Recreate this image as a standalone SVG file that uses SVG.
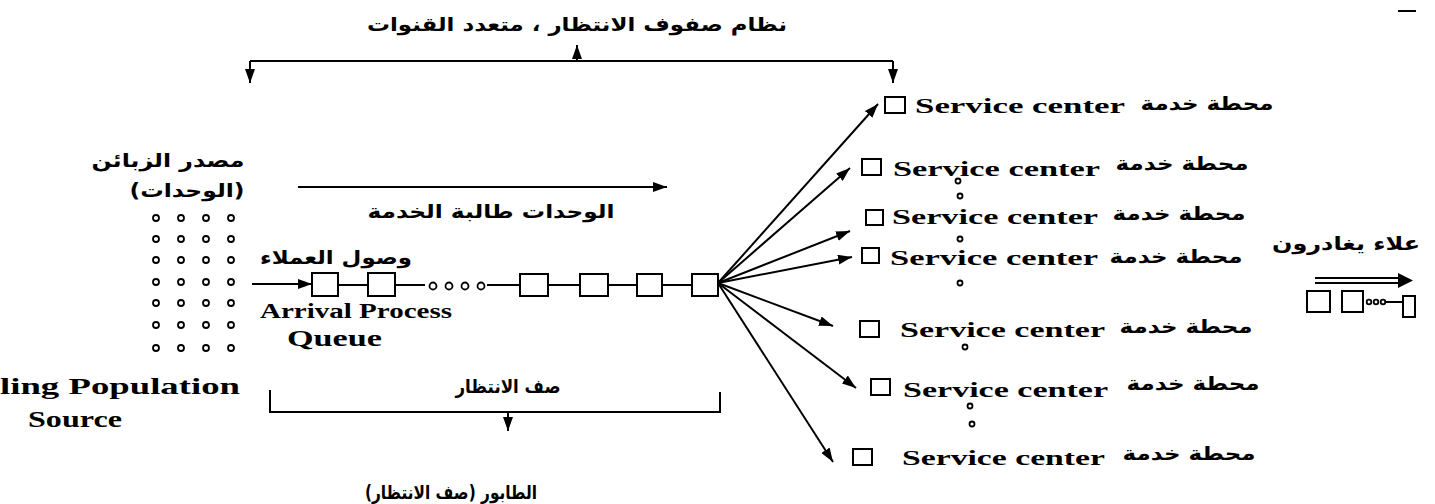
<svg xmlns="http://www.w3.org/2000/svg" width="1435" height="504" viewBox="0 0 1435 504">
<style>
.ln{stroke:#000;stroke-width:2;fill:none}
.box{fill:#fff;stroke:#000;stroke-width:2}
.dot{fill:#fff;stroke:#000;stroke-width:1.8}
.en{font-family:"Liberation Serif",serif;font-weight:bold;fill:#000}
.ar{font-family:"DejaVu Sans",sans-serif;font-weight:bold;fill:#000;direction:rtl;text-anchor:middle;font-size:19px}
</style>
<defs>
<marker id="ah" viewBox="0 0 14 10" refX="14" refY="5" markerWidth="14" markerHeight="10" markerUnits="userSpaceOnUse" orient="auto"><path d="M0,0 L14,5 L0,10 z" fill="#000"/></marker>
</defs>
<rect width="1435" height="504" fill="#fff"/>

<g id="title">
<text class="ar" x="577" y="31" font-size="21" textLength="420" lengthAdjust="spacingAndGlyphs">نظام صفوف الانتظار ، متعدد القنوات</text>
</g>
<g id="top-bracket">
<path class="ln" d="M250,61 H893"/>
<line class="ln" x1="250" y1="61" x2="250" y2="83" marker-end="url(#ah)"/>
<line class="ln" x1="893" y1="61" x2="893" y2="83" marker-end="url(#ah)"/>
<line class="ln" x1="577" y1="61" x2="577" y2="45" marker-end="url(#ah)"/>
</g>
<line class="ln" x1="1398" y1="11" x2="1416" y2="11" stroke-width="2.5"/>

<g id="source">
<text class="ar" x="168" y="167" textLength="153" lengthAdjust="spacingAndGlyphs">مصدر الزبائن</text>
<text class="ar" x="187" y="197" textLength="115" lengthAdjust="spacingAndGlyphs">(الوحدات)</text>
<g class="dot">
<circle cx="156" cy="218" r="3"/><circle cx="181" cy="218" r="3"/><circle cx="206" cy="218" r="3"/><circle cx="231" cy="218" r="3"/>
<circle cx="156" cy="239" r="3"/><circle cx="181" cy="239" r="3"/><circle cx="206" cy="239" r="3"/><circle cx="231" cy="239" r="3"/>
<circle cx="156" cy="260" r="3"/><circle cx="181" cy="260" r="3"/><circle cx="206" cy="260" r="3"/><circle cx="231" cy="260" r="3"/>
<circle cx="156" cy="282" r="3"/><circle cx="181" cy="282" r="3"/><circle cx="206" cy="282" r="3"/><circle cx="231" cy="282" r="3"/>
<circle cx="156" cy="303" r="3"/><circle cx="181" cy="303" r="3"/><circle cx="206" cy="303" r="3"/><circle cx="231" cy="303" r="3"/>
<circle cx="156" cy="325" r="3"/><circle cx="181" cy="325" r="3"/><circle cx="206" cy="325" r="3"/><circle cx="231" cy="325" r="3"/>
<circle cx="156" cy="348" r="3"/><circle cx="181" cy="348" r="3"/><circle cx="206" cy="348" r="3"/><circle cx="231" cy="348" r="3"/>
</g>
<text class="en" x="0" y="394" font-size="23" textLength="240" lengthAdjust="spacingAndGlyphs">ling Population</text>
<text class="en" x="28" y="427" font-size="23" textLength="94" lengthAdjust="spacingAndGlyphs">Source</text>
</g>

<g id="units-label">
<line class="ln" x1="298" y1="187" x2="667" y2="187" marker-end="url(#ah)"/>
<text class="ar" x="491" y="218" textLength="247" lengthAdjust="spacingAndGlyphs">الوحدات طالبة الخدمة</text>
</g>

<g id="queue">
<text class="ar" x="336" y="264" textLength="152" lengthAdjust="spacingAndGlyphs">وصول العملاء</text>
<line class="ln" x1="252" y1="284" x2="312" y2="284" marker-end="url(#ah)"/>
<path class="ln" d="M338,285 H368 M395,285 H425 M487,285 H520 M548,285 H580 M608,285 H637 M662,285 H692"/>
<rect class="box" x="312" y="273" width="26" height="23"/>
<rect class="box" x="368" y="273" width="27" height="23"/>
<g class="dot"><circle cx="433" cy="286" r="3.5"/><circle cx="449" cy="286" r="3.5"/><circle cx="465" cy="286" r="3.5"/><circle cx="481" cy="286" r="3.5"/></g>
<rect class="box" x="520" y="274" width="28" height="22"/>
<rect class="box" x="580" y="274" width="28" height="22"/>
<rect class="box" x="637" y="274" width="25" height="22"/>
<rect class="box" x="692" y="274" width="26" height="22"/>
<text class="en" x="260" y="318" font-size="20" textLength="192" lengthAdjust="spacingAndGlyphs">Arrival Process</text>
<text class="en" x="287" y="346" font-size="23" textLength="95" lengthAdjust="spacingAndGlyphs">Queue</text>
</g>

<g id="queue-bracket">
<path class="ln" d="M270,390 V412 H720 V392"/>
<line class="ln" x1="508" y1="412" x2="508" y2="431" marker-end="url(#ah)"/>
<text class="ar" x="508" y="393" textLength="105" lengthAdjust="spacingAndGlyphs">صف الانتظار</text>
<text class="ar" x="451" y="499" textLength="172" lengthAdjust="spacingAndGlyphs">الطابور (صف الانتظار)</text>
</g>

<g id="connectors">
<line class="ln" x1="718" y1="283" x2="878" y2="104" marker-end="url(#ah)"/>
<line class="ln" x1="718" y1="283" x2="850" y2="168" marker-end="url(#ah)"/>
<line class="ln" x1="718" y1="283" x2="850" y2="231" marker-end="url(#ah)"/>
<line class="ln" x1="718" y1="283" x2="852" y2="257" marker-end="url(#ah)"/>
<line class="ln" x1="718" y1="283" x2="833" y2="326" marker-end="url(#ah)"/>
<line class="ln" x1="718" y1="283" x2="856" y2="388" marker-end="url(#ah)"/>
<line class="ln" x1="718" y1="283" x2="833" y2="462" marker-end="url(#ah)"/>
</g>

<g id="sc1"><rect class="box" x="885" y="97" width="20" height="16"/><text class="en" x="915" y="113" font-size="22" textLength="210" lengthAdjust="spacingAndGlyphs">Service center</text><text class="ar" x="1207" y="110" textLength="133" lengthAdjust="spacingAndGlyphs">محطة خدمة</text></g>
<g id="sc2"><rect class="box" x="862" y="159" width="19" height="16"/><text class="en" x="893" y="176" font-size="22" textLength="207" lengthAdjust="spacingAndGlyphs">Service center</text><text class="ar" x="1182" y="170" textLength="133" lengthAdjust="spacingAndGlyphs">محطة خدمة</text></g>
<g id="sc3"><rect class="box" x="866" y="210" width="17" height="15"/><text class="en" x="892" y="224" font-size="22" textLength="206" lengthAdjust="spacingAndGlyphs">Service center</text><text class="ar" x="1179" y="220" textLength="133" lengthAdjust="spacingAndGlyphs">محطة خدمة</text></g>
<g id="sc4"><rect class="box" x="862" y="248" width="17" height="15"/><text class="en" x="890" y="265" font-size="22" textLength="208" lengthAdjust="spacingAndGlyphs">Service center</text><text class="ar" x="1176" y="263" textLength="133" lengthAdjust="spacingAndGlyphs">محطة خدمة</text></g>
<g id="sc5"><rect class="box" x="860" y="321" width="19" height="16"/><text class="en" x="900" y="337" font-size="22" textLength="205" lengthAdjust="spacingAndGlyphs">Service center</text><text class="ar" x="1186" y="333" textLength="133" lengthAdjust="spacingAndGlyphs">محطة خدمة</text></g>
<g id="sc6"><rect class="box" x="871" y="379" width="19" height="16"/><text class="en" x="903" y="397" font-size="22" textLength="205" lengthAdjust="spacingAndGlyphs">Service center</text><text class="ar" x="1193" y="390" textLength="133" lengthAdjust="spacingAndGlyphs">محطة خدمة</text></g>
<g id="sc7"><rect class="box" x="853" y="449" width="19" height="16"/><text class="en" x="902" y="465" font-size="22" textLength="203" lengthAdjust="spacingAndGlyphs">Service center</text><text class="ar" x="1189" y="460" textLength="133" lengthAdjust="spacingAndGlyphs">محطة خدمة</text></g>
<g class="dot">
<circle cx="958" cy="181" r="2.5"/><circle cx="960" cy="196" r="2.5"/><circle cx="960" cy="239" r="2.5"/><circle cx="960" cy="283" r="2.5"/>
<circle cx="965" cy="347" r="2.5"/><circle cx="970" cy="406" r="2.5"/><circle cx="972" cy="424" r="2.5"/>
</g>

<g id="departing">
<text class="ar" x="1346" y="250" textLength="148" lengthAdjust="spacingAndGlyphs">علاء يغادرون</text>
<path class="ln" d="M1315,278 H1400 M1315,283 H1400"/>
<path d="M1398,273 L1413,280.5 L1398,288 z" fill="#000"/>
<rect class="box" x="1307" y="291" width="23" height="21"/>
<rect class="box" x="1342" y="291" width="21" height="21"/>
<g class="dot"><circle cx="1369" cy="302" r="2.3"/><circle cx="1376" cy="302" r="2.3"/><circle cx="1383" cy="302" r="2.3"/></g>
<line class="ln" x1="1386" y1="302" x2="1403" y2="302" stroke-width="1.5"/>
<rect class="box" x="1403" y="296" width="12" height="21"/>
</g>
</svg>
